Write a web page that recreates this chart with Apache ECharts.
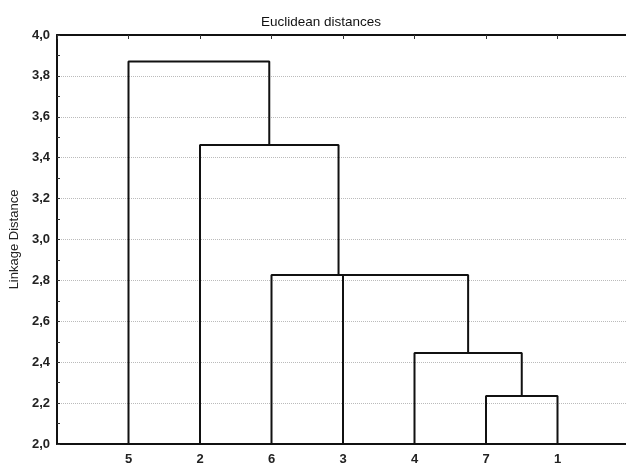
<!DOCTYPE html>
<html>
<head>
<meta charset="utf-8">
<script src="https://cdn.jsdelivr.net/npm/echarts@6/dist/echarts.min.js"></script>
<style>
  html, body { margin: 0; padding: 0; background: #fff; }
  #chart { width: 626px; height: 466px; }
</style>
</head>
<body>
<div id="chart"></div>
<script>
  // leaf order along the x axis
  const leaves = ['5', '2', '6', '3', '4', '7', '1'];
  // joins: [left node, right node, linkage distance]; nodes 0..6 are leaves, 7.. are joins in order
  const joins = [
    [5, 6, 2.235],
    [4, 7, 2.445],
    [3, 8, 2.826],
    [2, 9, 2.826],
    [1, 10, 3.462],
    [0, 11, 3.870]
  ];
  const yTicks = [2.0, 2.2, 2.4, 2.6, 2.8, 3.0, 3.2, 3.4, 3.6, 3.8, 4.0];

  const base = yTicks[0];
  const nodeX = leaves.map((l, i) => i + 1);
  const nodeH = leaves.map(() => base);
  const series = [];
  joins.forEach(([a, b, h]) => {
    series.push({
      type: 'line',
      symbol: 'none',
      silent: true,
      lineStyle: { color: '#111', width: 2 },
      data: [[nodeX[a], nodeH[a]], [nodeX[a], h], [nodeX[b], h], [nodeX[b], nodeH[b]]]
    });
    nodeX.push((nodeX[a] + nodeX[b]) / 2);
    nodeH.push(h);
  });

  const chart = echarts.init(document.getElementById('chart'));
  const font = 'Arial, "Liberation Sans", sans-serif';
  chart.setOption({
    animation: false,
    title: {
      text: 'Euclidean distances',
      left: 256,
      top: 10,
      textStyle: { fontFamily: font, fontSize: 13.5, fontWeight: 'normal', color: '#111' }
    },
    grid: { left: 57, right: -3, top: 35, bottom: 22, outerBoundsMode: 'none' },
    xAxis: [{
      type: 'value',
      min: 0,
      max: leaves.length + 1,
      interval: 1,
      axisLine: { lineStyle: { color: '#111', width: 2 } },
      axisTick: { show: false },
      splitLine: { show: false },
      axisLabel: {
        margin: 9,
        fontFamily: font, fontSize: 13, fontWeight: 'bold', color: '#222',
        formatter: v => leaves[v - 1] || ''
      }
    }, {
      type: 'value',
      position: 'top',
      min: 0,
      max: leaves.length + 1,
      interval: 1,
      axisLine: { lineStyle: { color: '#111', width: 2 } },
      axisTick: { inside: true, length: 4, lineStyle: { color: '#333' } },
      axisLabel: { show: false },
      splitLine: { show: false }
    }],
    yAxis: {
      type: 'value',
      min: yTicks[0],
      max: yTicks[yTicks.length - 1],
      interval: 0.2,
      name: 'Linkage Distance',
      nameLocation: 'middle',
      nameGap: 34,
      nameTextStyle: { fontFamily: font, fontSize: 13, color: '#222' },
      axisLine: { show: true, lineStyle: { color: '#111', width: 2 } },
      axisTick: { inside: true, length: 3, lineStyle: { color: '#333' } },
      minorTick: { show: true, splitNumber: 2, length: 3, lineStyle: { color: '#333' } },
      axisLabel: {
        margin: 7,
        fontFamily: font, fontSize: 13, fontWeight: 'bold', color: '#222',
        formatter: v => v.toFixed(1).replace('.', ',')
      },
      splitLine: { lineStyle: { color: '#bbb', type: 'dotted', width: 1 } }
    },
    series: series
  });
</script>
</body>
</html>
